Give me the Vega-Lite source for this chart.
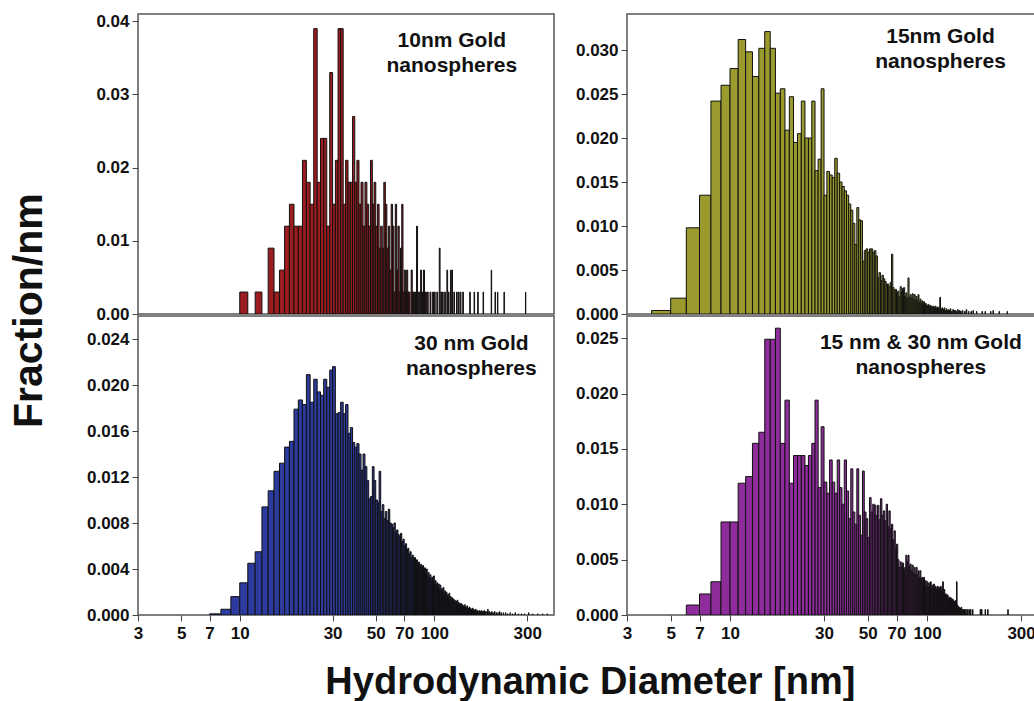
{
  "$schema": "https://vega.github.io/schema/vega-lite/v6.json",
  "background": "white",
  "padding": {"left": 8, "top": 11, "right": 0, "bottom": 0},
  "title": {"text": "Hydrodynamic Diameter [nm]", "orient": "bottom", "anchor": "middle", "font": "Liberation Sans", "fontSize": 38, "fontWeight": "bold", "color": "#111", "offset": 22, "dx": 68},
  "datasets": {
    "tl": [
      {"a":10,"b":11,"f":0.003},{"a":12,"b":13,"f":0.003},{"a":14,"b":15,"f":0.009},{"a":15,"b":16,"f":0.003},{"a":16,"b":17,"f":0.006},{"a":17,"b":18,"f":0.012},{"a":18,"b":19,"f":0.015},{"a":19,"b":20,"f":0.012},{"a":20,"b":21,"f":0.012},{"a":21,"b":22,"f":0.021},{"a":22,"b":23,"f":0.018},{"a":23,"b":24,"f":0.015},{"a":24,"b":25,"f":0.039},{"a":25,"b":26,"f":0.018},{"a":26,"b":27,"f":0.024},{"a":27,"b":28,"f":0.024},{"a":28,"b":29,"f":0.012},{"a":29,"b":30,"f":0.033},{"a":30,"b":31,"f":0.015},{"a":31,"b":32,"f":0.021},{"a":32,"b":33,"f":0.039},{"a":33,"b":34,"f":0.039},{"a":34,"b":35,"f":0.015},{"a":35,"b":36,"f":0.021},{"a":36,"b":37,"f":0.018},{"a":37,"b":38,"f":0.018},{"a":38,"b":39,"f":0.027},{"a":39,"b":40,"f":0.018},{"a":40,"b":41,"f":0.021},{"a":41,"b":42,"f":0.015},{"a":42,"b":43,"f":0.018},{"a":43,"b":44,"f":0.012},{"a":44,"b":45,"f":0.018},{"a":45,"b":46,"f":0.015},{"a":46,"b":47,"f":0.012},{"a":47,"b":48,"f":0.021},{"a":48,"b":49,"f":0.015},{"a":49,"b":50,"f":0.018},{"a":50,"b":51,"f":0.012},{"a":51,"b":52,"f":0.015},{"a":52,"b":53,"f":0.009},{"a":53,"b":54,"f":0.012},{"a":54,"b":55,"f":0.009},{"a":55,"b":56,"f":0.018},{"a":56,"b":57,"f":0.015},{"a":57,"b":58,"f":0.009},{"a":58,"b":59,"f":0.012},{"a":59,"b":60,"f":0.006},{"a":60,"b":61,"f":0.015},{"a":61,"b":62,"f":0.012},{"a":62,"b":63,"f":0.003},{"a":63,"b":64,"f":0.015},{"a":64,"b":65,"f":0.006},{"a":65,"b":66,"f":0.012},{"a":66,"b":67,"f":0.003},{"a":67,"b":68,"f":0.009},{"a":68,"b":69,"f":0.015},{"a":69,"b":70,"f":0.003},{"a":70,"b":71,"f":0.006},{"a":71,"b":72,"f":0.003},{"a":72,"b":73,"f":0.006},{"a":73,"b":74,"f":0.003},{"a":74,"b":75,"f":0.003},{"a":76,"b":77,"f":0.006},{"a":77,"b":78,"f":0.003},{"a":78,"b":79,"f":0.003},{"a":80,"b":81,"f":0.003},{"a":81,"b":82,"f":0.012},{"a":83,"b":84,"f":0.003},{"a":85,"b":86,"f":0.006},{"a":86,"b":87,"f":0.003},{"a":88,"b":89,"f":0.006},{"a":90,"b":91,"f":0.003},{"a":92,"b":93,"f":0.003},{"a":95,"b":96,"f":0.003},{"a":98,"b":99,"f":0.003},{"a":100,"b":101,"f":0.003},{"a":103,"b":104,"f":0.003},{"a":106,"b":107,"f":0.009},{"a":108,"b":109,"f":0.003},{"a":110,"b":111,"f":0.003},{"a":113,"b":114,"f":0.003},{"a":116,"b":117,"f":0.006},{"a":118,"b":119,"f":0.003},{"a":121,"b":122,"f":0.006},{"a":123,"b":124,"f":0.006},{"a":126,"b":127,"f":0.003},{"a":130,"b":131,"f":0.003},{"a":133,"b":134,"f":0.003},{"a":136,"b":137,"f":0.003},{"a":140,"b":141,"f":0.003},{"a":152,"b":153,"f":0.003},{"a":160,"b":161,"f":0.003},{"a":167,"b":168,"f":0.003},{"a":178,"b":179,"f":0.003},{"a":196,"b":197,"f":0.006},{"a":205,"b":206,"f":0.003},{"a":211,"b":212,"f":0.003},{"a":228,"b":229,"f":0.003},{"a":294,"b":295,"f":0.003}
    ],
    "tr": [
      {"a":4,"b":5,"f":0.0004},{"a":5,"b":6,"f":0.0018},{"a":6,"b":7,"f":0.0098},{"a":7,"b":8,"f":0.0135},{"a":8,"b":9,"f":0.0242},{"a":9,"b":10,"f":0.026},{"a":10,"b":11,"f":0.0279},{"a":11,"b":12,"f":0.0312},{"a":12,"b":13,"f":0.0298},{"a":13,"b":14,"f":0.027},{"a":14,"b":15,"f":0.0302},{"a":15,"b":16,"f":0.0321},{"a":16,"b":17,"f":0.0302},{"a":17,"b":18,"f":0.0251},{"a":18,"b":19,"f":0.0256},{"a":19,"b":20,"f":0.0209},{"a":20,"b":21,"f":0.0247},{"a":21,"b":22,"f":0.0195},{"a":22,"b":23,"f":0.0205},{"a":23,"b":24,"f":0.0242},{"a":24,"b":25,"f":0.02},{"a":25,"b":26,"f":0.02},{"a":26,"b":27,"f":0.0242},{"a":27,"b":28,"f":0.0163},{"a":28,"b":29,"f":0.0176},{"a":29,"b":30,"f":0.0256},{"a":30,"b":31,"f":0.0135},{"a":31,"b":32,"f":0.0162},{"a":32,"b":33,"f":0.0158},{"a":33,"b":34,"f":0.0155},{"a":34,"b":35,"f":0.0177},{"a":35,"b":36,"f":0.016},{"a":36,"b":37,"f":0.015},{"a":37,"b":38,"f":0.0145},{"a":38,"b":39,"f":0.014},{"a":39,"b":40,"f":0.0135},{"a":40,"b":41,"f":0.0125},{"a":41,"b":42,"f":0.0118},{"a":42,"b":43,"f":0.0103},{"a":43,"b":44,"f":0.0079},{"a":44,"b":45,"f":0.0121},{"a":45,"b":46,"f":0.0107},{"a":46,"b":47,"f":0.0106},{"a":47,"b":48,"f":0.006},{"a":48,"b":49,"f":0.0072},{"a":49,"b":50,"f":0.0074},{"a":50,"b":51,"f":0.007},{"a":51,"b":52,"f":0.0074},{"a":52,"b":53,"f":0.0074},{"a":53,"b":54,"f":0.007},{"a":54,"b":55,"f":0.0072},{"a":55,"b":56,"f":0.0066},{"a":56,"b":57,"f":0.0041},{"a":57,"b":58,"f":0.0047},{"a":58,"b":59,"f":0.0038},{"a":59,"b":60,"f":0.0044},{"a":60,"b":61,"f":0.004},{"a":61,"b":62,"f":0.0037},{"a":62,"b":63,"f":0.0034},{"a":63,"b":64,"f":0.0034},{"a":64,"b":65,"f":0.0031},{"a":65,"b":66,"f":0.0036},{"a":66,"b":67,"f":0.0068},{"a":67,"b":68,"f":0.003},{"a":68,"b":69,"f":0.0027},{"a":69,"b":70,"f":0.0028},{"a":70,"b":71,"f":0.0024},{"a":71,"b":72,"f":0.0026},{"a":72,"b":73,"f":0.002},{"a":73,"b":74,"f":0.0031},{"a":74,"b":75,"f":0.0025},{"a":75,"b":76,"f":0.0029},{"a":76,"b":77,"f":0.003},{"a":77,"b":78,"f":0.002},{"a":78,"b":79,"f":0.0024},{"a":79,"b":80,"f":0.0018},{"a":80,"b":81,"f":0.0041},{"a":81,"b":82,"f":0.0019},{"a":82,"b":83,"f":0.0022},{"a":83,"b":84,"f":0.0018},{"a":84,"b":85,"f":0.0023},{"a":85,"b":86,"f":0.0017},{"a":86,"b":87,"f":0.0022},{"a":87,"b":88,"f":0.0016},{"a":88,"b":89,"f":0.002},{"a":89,"b":90,"f":0.0015},{"a":90,"b":91,"f":0.0022},{"a":91,"b":92,"f":0.0013},{"a":92,"b":93,"f":0.0017},{"a":93,"b":94,"f":0.0012},{"a":94,"b":95,"f":0.0015},{"a":95,"b":96,"f":0.001},{"a":96,"b":97,"f":0.0014},{"a":97,"b":98,"f":0.0009},{"a":98,"b":99,"f":0.0012},{"a":99,"b":100,"f":0.001},{"a":100,"b":101,"f":0.0009},{"a":101,"b":102,"f":0.0011},{"a":102,"b":103,"f":0.0008},{"a":103,"b":104,"f":0.001},{"a":104,"b":105,"f":0.0008},{"a":105,"b":106,"f":0.0009},{"a":106,"b":107,"f":0.0007},{"a":107,"b":108,"f":0.0009},{"a":108,"b":109,"f":0.0008},{"a":109,"b":110,"f":0.0006},{"a":110,"b":111,"f":0.0009},{"a":111,"b":112,"f":0.0007},{"a":112,"b":113,"f":0.0006},{"a":113,"b":114,"f":0.0008},{"a":114,"b":115,"f":0.0005},{"a":115,"b":116,"f":0.0007},{"a":116,"b":117,"f":0.0019},{"a":117,"b":118,"f":0.0006},{"a":118,"b":119,"f":0.0005},{"a":119,"b":120,"f":0.0007},{"a":120,"b":121,"f":0.0004},{"a":121,"b":122,"f":0.0005},{"a":122,"b":123,"f":0.0007},{"a":124,"b":125,"f":0.0004},{"a":125,"b":126,"f":0.0006},{"a":127,"b":128,"f":0.0004},{"a":128,"b":129,"f":0.0005},{"a":130,"b":131,"f":0.0004},{"a":131,"b":132,"f":0.0006},{"a":133,"b":134,"f":0.0003},{"a":135,"b":136,"f":0.0005},{"a":137,"b":138,"f":0.0004},{"a":139,"b":140,"f":0.0004},{"a":141,"b":142,"f":0.0003},{"a":143,"b":144,"f":0.0005},{"a":146,"b":147,"f":0.0004},{"a":148,"b":149,"f":0.0003},{"a":151,"b":152,"f":0.0004},{"a":155,"b":156,"f":0.0003},{"a":158,"b":159,"f":0.0005},{"a":162,"b":163,"f":0.0003},{"a":167,"b":168,"f":0.0003},{"a":171,"b":172,"f":0.0004},{"a":178,"b":179,"f":0.0003},{"a":190,"b":191,"f":0.0003},{"a":197,"b":198,"f":0.0003},{"a":210,"b":211,"f":0.0003},{"a":216,"b":217,"f":0.0004},{"a":232,"b":233,"f":0.0003},{"a":255,"b":256,"f":0.0003}
    ],
    "bl": [
      {"a":7,"b":8,"f":0.0001},{"a":8,"b":9,"f":0.0005},{"a":9,"b":10,"f":0.0016},{"a":10,"b":11,"f":0.0028},{"a":11,"b":12,"f":0.0045},{"a":12,"b":13,"f":0.0055},{"a":13,"b":14,"f":0.0094},{"a":14,"b":15,"f":0.0108},{"a":15,"b":16,"f":0.0125},{"a":16,"b":17,"f":0.0132},{"a":17,"b":18,"f":0.0146},{"a":18,"b":19,"f":0.0151},{"a":19,"b":20,"f":0.0179},{"a":20,"b":21,"f":0.0187},{"a":21,"b":22,"f":0.0183},{"a":22,"b":23,"f":0.0209},{"a":23,"b":24,"f":0.0185},{"a":24,"b":25,"f":0.0205},{"a":25,"b":26,"f":0.0194},{"a":26,"b":27,"f":0.0191},{"a":27,"b":28,"f":0.0205},{"a":28,"b":29,"f":0.0198},{"a":29,"b":30,"f":0.0213},{"a":30,"b":31,"f":0.0216},{"a":31,"b":32,"f":0.0175},{"a":32,"b":33,"f":0.0176},{"a":33,"b":34,"f":0.0185},{"a":34,"b":35,"f":0.0175},{"a":35,"b":36,"f":0.0183},{"a":36,"b":37,"f":0.0158},{"a":37,"b":38,"f":0.0163},{"a":38,"b":39,"f":0.015},{"a":39,"b":40,"f":0.0146},{"a":40,"b":41,"f":0.0149},{"a":41,"b":42,"f":0.014},{"a":42,"b":43,"f":0.0126},{"a":43,"b":44,"f":0.014},{"a":44,"b":45,"f":0.0129},{"a":45,"b":46,"f":0.0117},{"a":46,"b":47,"f":0.0101},{"a":47,"b":48,"f":0.0103},{"a":48,"b":49,"f":0.0129},{"a":49,"b":50,"f":0.0117},{"a":50,"b":51,"f":0.01},{"a":51,"b":52,"f":0.0098},{"a":52,"b":53,"f":0.0125},{"a":53,"b":54,"f":0.009},{"a":54,"b":55,"f":0.0096},{"a":55,"b":56,"f":0.0084},{"a":56,"b":57,"f":0.009},{"a":57,"b":58,"f":0.0082},{"a":58,"b":59,"f":0.0092},{"a":59,"b":60,"f":0.008},{"a":60,"b":61,"f":0.0079},{"a":61,"b":62,"f":0.0076},{"a":62,"b":63,"f":0.008},{"a":63,"b":64,"f":0.0072},{"a":64,"b":65,"f":0.0074},{"a":65,"b":66,"f":0.007},{"a":66,"b":67,"f":0.0068},{"a":67,"b":68,"f":0.0071},{"a":68,"b":69,"f":0.0064},{"a":69,"b":70,"f":0.0066},{"a":70,"b":71,"f":0.006},{"a":71,"b":72,"f":0.0062},{"a":72,"b":73,"f":0.0057},{"a":73,"b":74,"f":0.0058},{"a":74,"b":75,"f":0.0053},{"a":75,"b":76,"f":0.0055},{"a":76,"b":77,"f":0.005},{"a":77,"b":78,"f":0.0052},{"a":78,"b":79,"f":0.0049},{"a":79,"b":80,"f":0.005},{"a":80,"b":81,"f":0.0046},{"a":81,"b":82,"f":0.0048},{"a":82,"b":83,"f":0.0044},{"a":83,"b":84,"f":0.0046},{"a":84,"b":85,"f":0.0042},{"a":85,"b":86,"f":0.0044},{"a":86,"b":87,"f":0.004},{"a":87,"b":88,"f":0.0043},{"a":88,"b":89,"f":0.0038},{"a":89,"b":90,"f":0.0041},{"a":90,"b":91,"f":0.0036},{"a":91,"b":92,"f":0.004},{"a":92,"b":93,"f":0.0034},{"a":93,"b":94,"f":0.0037},{"a":94,"b":95,"f":0.0032},{"a":95,"b":96,"f":0.0035},{"a":96,"b":97,"f":0.0031},{"a":97,"b":98,"f":0.0033},{"a":98,"b":99,"f":0.0029},{"a":99,"b":100,"f":0.0034},{"a":100,"b":101,"f":0.0027},{"a":101,"b":102,"f":0.003},{"a":102,"b":103,"f":0.0026},{"a":103,"b":104,"f":0.0028},{"a":104,"b":105,"f":0.0024},{"a":105,"b":106,"f":0.0027},{"a":106,"b":107,"f":0.0022},{"a":107,"b":108,"f":0.0026},{"a":108,"b":109,"f":0.0021},{"a":109,"b":110,"f":0.0023},{"a":110,"b":111,"f":0.002},{"a":111,"b":112,"f":0.0024},{"a":112,"b":113,"f":0.0019},{"a":113,"b":114,"f":0.0021},{"a":114,"b":115,"f":0.0017},{"a":115,"b":116,"f":0.002},{"a":116,"b":117,"f":0.0016},{"a":117,"b":118,"f":0.0018},{"a":118,"b":119,"f":0.0015},{"a":119,"b":120,"f":0.0019},{"a":120,"b":121,"f":0.0014},{"a":121,"b":122,"f":0.0016},{"a":122,"b":123,"f":0.0013},{"a":123,"b":124,"f":0.0015},{"a":124,"b":125,"f":0.0012},{"a":125,"b":126,"f":0.0014},{"a":126,"b":127,"f":0.0011},{"a":127,"b":128,"f":0.0013},{"a":128,"b":129,"f":0.0011},{"a":129,"b":130,"f":0.0012},{"a":130,"b":131,"f":0.001},{"a":131,"b":132,"f":0.0013},{"a":132,"b":133,"f":0.0009},{"a":133,"b":134,"f":0.0011},{"a":134,"b":135,"f":0.0009},{"a":135,"b":136,"f":0.001},{"a":136,"b":137,"f":0.0008},{"a":137,"b":138,"f":0.001},{"a":138,"b":139,"f":0.0008},{"a":139,"b":140,"f":0.0009},{"a":140,"b":141,"f":0.0007},{"a":141,"b":142,"f":0.0008},{"a":142,"b":143,"f":0.0006},{"a":143,"b":144,"f":0.0009},{"a":144,"b":145,"f":0.0006},{"a":145,"b":146,"f":0.0007},{"a":146,"b":147,"f":0.0005},{"a":147,"b":148,"f":0.0008},{"a":148,"b":149,"f":0.0005},{"a":149,"b":150,"f":0.0006},{"a":150,"b":151,"f":0.0005},{"a":151,"b":152,"f":0.0007},{"a":152,"b":153,"f":0.0004},{"a":153,"b":154,"f":0.0006},{"a":154,"b":155,"f":0.0004},{"a":155,"b":156,"f":0.0005},{"a":156,"b":157,"f":0.0004},{"a":157,"b":158,"f":0.0006},{"a":158,"b":159,"f":0.0003},{"a":159,"b":160,"f":0.0005},{"a":160,"b":161,"f":0.0004},{"a":162,"b":163,"f":0.0004},{"a":163,"b":164,"f":0.0005},{"a":165,"b":166,"f":0.0003},{"a":166,"b":167,"f":0.0004},{"a":168,"b":169,"f":0.0003},{"a":170,"b":171,"f":0.0004},{"a":172,"b":173,"f":0.0003},{"a":174,"b":175,"f":0.0004},{"a":176,"b":177,"f":0.0003},{"a":178,"b":179,"f":0.0003},{"a":180,"b":181,"f":0.0004},{"a":183,"b":184,"f":0.0003},{"a":186,"b":187,"f":0.0003},{"a":188,"b":189,"f":0.0005},{"a":191,"b":192,"f":0.0003},{"a":194,"b":195,"f":0.0002},{"a":197,"b":198,"f":0.0003},{"a":200,"b":201,"f":0.0002},{"a":204,"b":205,"f":0.0003},{"a":208,"b":209,"f":0.0002},{"a":212,"b":213,"f":0.0002},{"a":216,"b":217,"f":0.0003},{"a":220,"b":221,"f":0.0002},{"a":226,"b":227,"f":0.0002},{"a":232,"b":233,"f":0.0002},{"a":238,"b":239,"f":0.0001},{"a":245,"b":246,"f":0.0002},{"a":252,"b":253,"f":0.0001},{"a":260,"b":261,"f":0.0002},{"a":270,"b":271,"f":0.0001},{"a":280,"b":281,"f":0.0001},{"a":290,"b":291,"f":0.0001},{"a":305,"b":306,"f":0.0002},{"a":320,"b":321,"f":0.0001},{"a":340,"b":341,"f":0.0001},{"a":360,"b":361,"f":0.0001},{"a":380,"b":381,"f":0.0001}
    ],
    "br": [
      {"a":6,"b":7,"f":0.0009},{"a":7,"b":8,"f":0.0019},{"a":8,"b":9,"f":0.003},{"a":9,"b":10,"f":0.0084},{"a":10,"b":11,"f":0.0084},{"a":11,"b":12,"f":0.0119},{"a":12,"b":13,"f":0.0125},{"a":13,"b":14,"f":0.0155},{"a":14,"b":15,"f":0.0165},{"a":15,"b":16,"f":0.0249},{"a":16,"b":17,"f":0.0249},{"a":17,"b":18,"f":0.0259},{"a":18,"b":19,"f":0.0155},{"a":19,"b":20,"f":0.0194},{"a":20,"b":21,"f":0.0119},{"a":21,"b":22,"f":0.0144},{"a":22,"b":23,"f":0.0144},{"a":23,"b":24,"f":0.0144},{"a":24,"b":25,"f":0.0135},{"a":25,"b":26,"f":0.0144},{"a":26,"b":27,"f":0.0155},{"a":27,"b":28,"f":0.0194},{"a":28,"b":29,"f":0.0115},{"a":29,"b":30,"f":0.017},{"a":30,"b":31,"f":0.012},{"a":31,"b":32,"f":0.011},{"a":32,"b":33,"f":0.014},{"a":33,"b":34,"f":0.012},{"a":34,"b":35,"f":0.011},{"a":35,"b":36,"f":0.014},{"a":36,"b":37,"f":0.0115},{"a":37,"b":38,"f":0.01},{"a":38,"b":39,"f":0.014},{"a":39,"b":40,"f":0.0112},{"a":40,"b":41,"f":0.0087},{"a":41,"b":42,"f":0.0132},{"a":42,"b":43,"f":0.0093},{"a":43,"b":44,"f":0.0082},{"a":44,"b":45,"f":0.0132},{"a":45,"b":46,"f":0.009},{"a":46,"b":47,"f":0.0072},{"a":47,"b":48,"f":0.013},{"a":48,"b":49,"f":0.0093},{"a":49,"b":50,"f":0.0087},{"a":50,"b":51,"f":0.007},{"a":51,"b":52,"f":0.0106},{"a":52,"b":53,"f":0.0093},{"a":53,"b":54,"f":0.01},{"a":54,"b":55,"f":0.0099},{"a":55,"b":56,"f":0.009},{"a":56,"b":57,"f":0.0099},{"a":57,"b":58,"f":0.0086},{"a":58,"b":59,"f":0.0105},{"a":59,"b":60,"f":0.009},{"a":60,"b":61,"f":0.0094},{"a":61,"b":62,"f":0.0085},{"a":62,"b":63,"f":0.01},{"a":63,"b":64,"f":0.008},{"a":64,"b":65,"f":0.0094},{"a":65,"b":66,"f":0.0078},{"a":66,"b":67,"f":0.0082},{"a":67,"b":68,"f":0.0068},{"a":68,"b":69,"f":0.0076},{"a":69,"b":70,"f":0.006},{"a":70,"b":71,"f":0.0064},{"a":71,"b":72,"f":0.005},{"a":72,"b":73,"f":0.0043},{"a":73,"b":74,"f":0.0048},{"a":74,"b":75,"f":0.0043},{"a":75,"b":76,"f":0.0047},{"a":76,"b":77,"f":0.004},{"a":77,"b":78,"f":0.0043},{"a":78,"b":79,"f":0.0054},{"a":79,"b":80,"f":0.0048},{"a":80,"b":81,"f":0.0054},{"a":81,"b":82,"f":0.0044},{"a":82,"b":83,"f":0.0046},{"a":83,"b":84,"f":0.004},{"a":84,"b":85,"f":0.0045},{"a":85,"b":86,"f":0.0038},{"a":86,"b":87,"f":0.0043},{"a":87,"b":88,"f":0.0037},{"a":88,"b":89,"f":0.0043},{"a":89,"b":90,"f":0.0036},{"a":90,"b":91,"f":0.004},{"a":91,"b":92,"f":0.0034},{"a":92,"b":93,"f":0.004},{"a":93,"b":94,"f":0.0033},{"a":94,"b":95,"f":0.0034},{"a":95,"b":96,"f":0.003},{"a":96,"b":97,"f":0.0034},{"a":97,"b":98,"f":0.0027},{"a":98,"b":99,"f":0.0031},{"a":99,"b":100,"f":0.0026},{"a":100,"b":101,"f":0.003},{"a":101,"b":102,"f":0.0025},{"a":102,"b":103,"f":0.0029},{"a":103,"b":104,"f":0.0026},{"a":104,"b":105,"f":0.003},{"a":105,"b":106,"f":0.0024},{"a":106,"b":107,"f":0.0027},{"a":107,"b":108,"f":0.0025},{"a":108,"b":109,"f":0.0028},{"a":109,"b":110,"f":0.0024},{"a":110,"b":111,"f":0.0026},{"a":111,"b":112,"f":0.0023},{"a":112,"b":113,"f":0.0025},{"a":113,"b":114,"f":0.0026},{"a":114,"b":115,"f":0.0022},{"a":115,"b":116,"f":0.0025},{"a":116,"b":117,"f":0.0022},{"a":117,"b":118,"f":0.0026},{"a":118,"b":119,"f":0.0021},{"a":119,"b":120,"f":0.0024},{"a":120,"b":121,"f":0.003},{"a":121,"b":122,"f":0.002},{"a":122,"b":123,"f":0.0023},{"a":123,"b":124,"f":0.0019},{"a":124,"b":125,"f":0.0017},{"a":125,"b":126,"f":0.0019},{"a":126,"b":127,"f":0.0015},{"a":127,"b":128,"f":0.0018},{"a":128,"b":129,"f":0.0014},{"a":129,"b":130,"f":0.0016},{"a":130,"b":131,"f":0.0013},{"a":131,"b":132,"f":0.0016},{"a":132,"b":133,"f":0.0013},{"a":133,"b":134,"f":0.0015},{"a":134,"b":135,"f":0.0012},{"a":135,"b":136,"f":0.0014},{"a":136,"b":137,"f":0.0013},{"a":137,"b":138,"f":0.0012},{"a":138,"b":139,"f":0.0011},{"a":139,"b":140,"f":0.0013},{"a":140,"b":141,"f":0.001},{"a":141,"b":142,"f":0.003},{"a":142,"b":143,"f":0.0009},{"a":143,"b":144,"f":0.0008},{"a":144,"b":145,"f":0.0007},{"a":146,"b":147,"f":0.0007},{"a":147,"b":148,"f":0.0006},{"a":149,"b":150,"f":0.0007},{"a":151,"b":152,"f":0.0005},{"a":153,"b":154,"f":0.0005},{"a":155,"b":156,"f":0.0005},{"a":157,"b":158,"f":0.0005},{"a":160,"b":161,"f":0.0005},{"a":163,"b":164,"f":0.0005},{"a":166,"b":167,"f":0.0005},{"a":170,"b":171,"f":0.0005},{"a":186,"b":187,"f":0.0005},{"a":189,"b":190,"f":0.0005},{"a":197,"b":198,"f":0.0005},{"a":203,"b":204,"f":0.0005},{"a":257,"b":258,"f":0.0005}
    ]
  },
  "config": {
    "view": {"stroke": "#555", "strokeWidth": 1.5},
    "axis": {"labelFont": "Liberation Sans", "labelFontSize": 17, "labelFontWeight": "bold", "labelColor": "#111", "tickColor": "#444", "tickSize": 6, "domain": false, "grid": false, "labelPadding": 3, "title": null},
    "text": {"font": "Liberation Sans", "fontSize": 21, "fontWeight": "bold", "color": "#111", "align": "center", "baseline": "top", "lineBreak": "\n", "lineHeight": 25}
  },
  "vconcat": [
    {
      "title": {"text": "Fraction/nm", "orient": "left", "anchor": "middle", "font": "Liberation Sans", "fontSize": 41, "fontWeight": "bold", "color": "#111", "offset": 35, "dx": 16},
      "columns": 2,
      "align": "each",
      "bounds": "flush",
      "spacing": {"row": 2, "column": 73},
      "resolve": {"scale": {"x": "independent", "y": "independent"}},
      "concat": [
        {
          "width": 416, "height": 300,
          "layer": [
            {"data": {"name": "tl"},
             "mark": {"type": "rect", "fill": "#9c1c1f", "stroke": "#111", "strokeWidth": 1, "clip": true},
             "encoding": {
               "x": {"field": "a", "type": "quantitative", "scale": {"type": "log", "domain": [3, 412], "nice": false}, "axis": null},
               "x2": {"field": "b"},
               "y": {"field": "f", "type": "quantitative", "scale": {"domain": [0, 0.041], "nice": false, "zero": true}, "axis": {"values": [0, 0.01, 0.02, 0.03, 0.04], "format": ".2f"}},
               "y2": {"datum": 0}
             }},
            {"data": {"values": [{"a": 123, "f": 0.0388, "t": "10nm Gold\nnanospheres"}]},
             "mark": {"type": "text"},
             "encoding": {"x": {"field": "a", "type": "quantitative"}, "y": {"field": "f", "type": "quantitative"}, "text": {"field": "t"}}}
          ]
        },
        {
          "width": 408, "height": 300,
          "layer": [
            {"data": {"name": "tr"},
             "mark": {"type": "rect", "fill": "#9a9a2e", "stroke": "#111", "strokeWidth": 1, "clip": true},
             "encoding": {
               "x": {"field": "a", "type": "quantitative", "scale": {"type": "log", "domain": [3, 353], "nice": false}, "axis": null},
               "x2": {"field": "b"},
               "y": {"field": "f", "type": "quantitative", "scale": {"domain": [0, 0.0341], "nice": false}, "axis": {"values": [0, 0.005, 0.01, 0.015, 0.02, 0.025, 0.03], "format": ".3f"}},
               "y2": {"datum": 0}
             }},
            {"data": {"values": [{"a": 117, "f": 0.0327, "t": "15nm Gold\nnanospheres"}]},
             "mark": {"type": "text"},
             "encoding": {"x": {"field": "a", "type": "quantitative"}, "y": {"field": "f", "type": "quantitative"}, "text": {"field": "t"}}}
          ]
        },
        {
          "width": 416, "height": 299,
          "layer": [
            {"data": {"name": "bl"},
             "mark": {"type": "rect", "fill": "#2d3a9e", "stroke": "#111", "strokeWidth": 1, "clip": true},
             "encoding": {
               "x": {"field": "a", "type": "quantitative", "scale": {"type": "log", "domain": [3, 412], "nice": false}, "axis": {"values": [3, 5, 7, 10, 30, 50, 70, 100, 300], "format": "d", "labelPadding": 4, "labelFlush": false}},
               "x2": {"field": "b"},
               "y": {"field": "f", "type": "quantitative", "scale": {"domain": [0, 0.026], "nice": false}, "axis": {"values": [0, 0.004, 0.008, 0.012, 0.016, 0.02, 0.024], "format": ".3f"}},
               "y2": {"datum": 0}
             }},
            {"data": {"values": [{"a": 155, "f": 0.0245, "t": "30 nm Gold\nnanospheres"}]},
             "mark": {"type": "text"},
             "encoding": {"x": {"field": "a", "type": "quantitative"}, "y": {"field": "f", "type": "quantitative"}, "text": {"field": "t"}}}
          ]
        },
        {
          "width": 408, "height": 299,
          "layer": [
            {"data": {"name": "br"},
             "mark": {"type": "rect", "fill": "#8e2c9c", "stroke": "#111", "strokeWidth": 1, "clip": true},
             "encoding": {
               "x": {"field": "a", "type": "quantitative", "scale": {"type": "log", "domain": [3, 353], "nice": false}, "axis": {"values": [3, 5, 7, 10, 30, 50, 70, 100, 300], "format": "d", "labelPadding": 4, "labelFlush": false}},
               "x2": {"field": "b"},
               "y": {"field": "f", "type": "quantitative", "scale": {"domain": [0, 0.027], "nice": false}, "axis": {"values": [0, 0.005, 0.01, 0.015, 0.02, 0.025], "format": ".3f"}},
               "y2": {"datum": 0}
             }},
            {"data": {"values": [{"a": 93, "f": 0.0256, "t": "15 nm & 30 nm Gold\nnanospheres"}]},
             "mark": {"type": "text"},
             "encoding": {"x": {"field": "a", "type": "quantitative"}, "y": {"field": "f", "type": "quantitative"}, "text": {"field": "t"}}}
          ]
        }
      ]
    }
  ]
}
